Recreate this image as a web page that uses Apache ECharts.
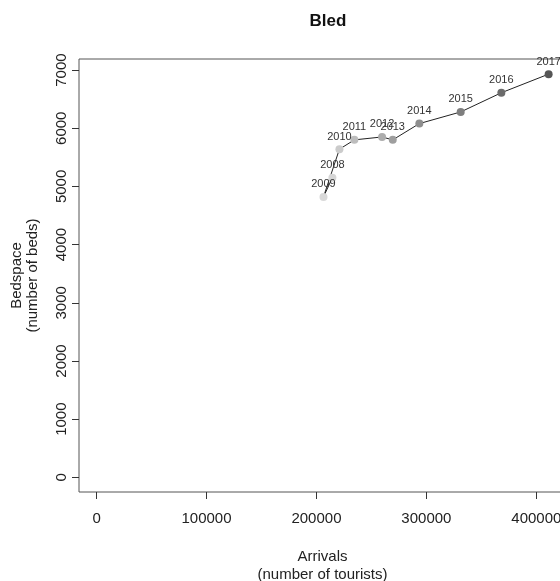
<!DOCTYPE html>
<html>
<head>
<meta charset="utf-8">
<script src="https://cdn.jsdelivr.net/npm/echarts@6/dist/echarts.min.js"></script>
<style>
  html, body { margin: 0; padding: 0; background: #fff; }
  #chart { width: 560px; height: 581px; }
</style>
</head>
<body>
<div id="chart"></div>
<script>
const years = ['2008', '2009', '2010', '2011', '2012', '2013', '2014', '2015', '2016', '2017']
const arrivals = [214500, 206400, 220900, 234500, 259700, 269400, 293600, 331200, 368200, 411200]
const beds = [5150, 4820, 5640, 5800, 5850, 5800, 6080, 6280, 6610, 6930]
const xTicks = [0, 100000, 200000, 300000, 400000]
const yTicks = [0, 1000, 2000, 3000, 4000, 5000, 6000, 7000]

// lighter for early years, darker for later ones
const shades = ['#d6d6d6', '#d9d9d9', '#cbcbcb', '#bdbdbd', '#adadad', '#9e9e9e', '#8e8e8e', '#7e7e7e', '#6b6b6b', '#555555']

var chart = echarts.init(document.getElementById('chart'));
var font = 'Liberation Sans, Arial, sans-serif';

var points = [];
for (var i = 0; i < years.length; i++) {
    points.push({
        value: [arrivals[i], beds[i]],
        name: years[i],
        itemStyle: { color: shades[i] }
    });
}

function plain(v) { return String(v); }

var option = {
    animation: false,
    title: {
        text: 'Bled',
        left: 323,
        textAlign: 'center',
        top: 8,
        textStyle: { fontFamily: font, fontSize: 17, fontWeight: 'bold', color: '#111' }
    },
    grid: {
        left: 79, top: 59, width: 487, height: 433,
        outerBoundsMode: 'none',
        show: true, borderColor: '#555', borderWidth: 1
    },
    xAxis: {
        type: 'value',
        min: -16000, max: 427000,
        name: 'Arrivals\n(number of tourists)',
        nameLocation: 'middle',
        nameGap: 56,
        nameTextStyle: { fontFamily: font, fontSize: 15, color: '#222', lineHeight: 18 },
        axisLine: { show: false, onZero: false },
        splitLine: { show: false },
        axisTick: { show: true, inside: false, length: 7, customValues: xTicks, lineStyle: { color: '#333' } },
        axisLabel: { customValues: xTicks, formatter: plain, margin: 19, fontFamily: font, fontSize: 15, color: '#222' }
    },
    yAxis: {
        type: 'value',
        min: -252, max: 7190,
        name: 'Bedspace\n(number of beds)',
        nameLocation: 'middle',
        nameRotate: 90,
        nameGap: 38,
        nameTextStyle: { fontFamily: font, fontSize: 15, color: '#222', lineHeight: 16 },
        axisLine: { show: false, onZero: false },
        splitLine: { show: false },
        axisTick: { show: true, inside: false, length: 7, customValues: yTicks, lineStyle: { color: '#333' } },
        axisLabel: { customValues: yTicks, formatter: plain, rotate: 90, margin: 10, fontFamily: font, fontSize: 15, color: '#222' }
    },
    series: [{
        type: 'line',
        data: points,
        symbol: 'circle',
        symbolSize: 8,
        showAllSymbol: true,
        lineStyle: { color: '#222', width: 1 },
        label: {
            show: true,
            position: 'top',
            distance: 3,
            fontFamily: font,
            fontSize: 11,
            color: '#333',
            formatter: function (p) { return p.name; }
        }
    }]
};
chart.setOption(option);
</script>
</body>
</html>
